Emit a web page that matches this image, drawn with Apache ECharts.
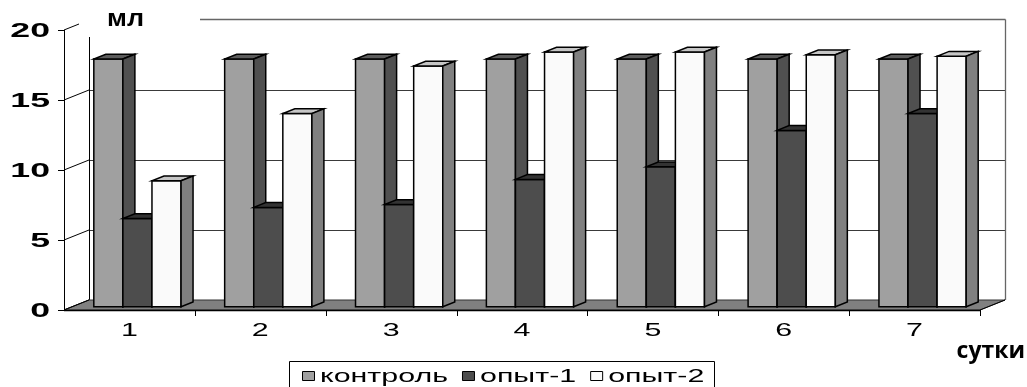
<!DOCTYPE html>
<html>
<head>
<meta charset="utf-8">
<script src="https://cdn.jsdelivr.net/npm/echarts@6/dist/echarts.min.js"></script>
<style>
  html, body { margin: 0; padding: 0; background: #ffffff; }
  #chart { width: 1027px; height: 387px; }
</style>
</head>
<body>
<div id="chart"></div>
<script>
// Days of observation and the measured volumes (ml)
const categories = ['1', '2', '3', '4', '5', '6', '7'];
const seriesNames = ['контроль', 'опыт-1', 'опыт-2'];
const control = [17.7, 17.7, 17.7, 17.7, 17.7, 17.7, 17.7];
const opyt1 = [6.3, 7.1, 7.3, 9.1, 10.0, 12.6, 13.8];
const opyt2 = [9.0, 13.8, 17.2, 18.2, 18.2, 18.0, 17.9];
const yTicks = [0, 5, 10, 15, 20];
const yAxisTitle = 'мл';
const xAxisTitle = 'сутки';

// Oblique projection: offset of the back wall relative to the front plane
const DX = 25, DY = -10;
// Bars occupy this slice of the depth
const BAR_FRONT = 0.32, BAR_BACK = 0.8;

const faces = [
  { front: '#a0a0a0', top: '#5c5c5c', side: '#505050' },
  { front: '#4d4d4d', top: '#333333', side: '#2e2e2e' },
  { front: '#fafafa', top: '#c6c6c6', side: '#808080' }
];
const values = [control, opyt1, opyt2];

const crisp = v => Math.round(v) + 0.5;

// text width helper for laying out the legend row
const measureCtx = document.createElement('canvas').getContext('2d');
function textWidth(text, font) {
  measureCtx.font = font;
  return measureCtx.measureText(text).width;
}

function barRenderer(s) {
  return function (params, api) {
    const ci = api.value(0), v = api.value(1);
    const base = api.coord([ci, 0]);
    const top = api.coord([ci, v]);
    const band = api.size([1, 0])[0];
    const w = band / 4.5;
    const x0 = base[0] - 1.5 * w + s * w;
    const fx = DX * BAR_FRONT, fy = DY * BAR_FRONT;
    const dx = DX * (BAR_BACK - BAR_FRONT), dy = DY * (BAR_BACK - BAR_FRONT);
    const xl = x0 + fx, xr = x0 + w + fx;
    const yb = base[1] + fy, yt = top[1] + fy;
    const st = fill => ({ fill: fill, stroke: '#000', lineWidth: 1.5, lineJoin: 'miter' });
    return {
      type: 'group',
      children: [
        { type: 'polygon', shape: { points: [[xl, yb], [xr, yb], [xr, yt], [xl, yt]] }, style: st(faces[s].front) },
        { type: 'polygon', shape: { points: [[xl, yt], [xr, yt], [xr + dx, yt + dy], [xl + dx, yt + dy]] }, style: st(faces[s].top) },
        { type: 'polygon', shape: { points: [[xr, yb], [xr + dx, yb + dy], [xr + dx, yt + dy], [xr, yt]] }, style: st(faces[s].side) }
      ]
    };
  };
}

function renderFrame(params, api) {
  if (params.dataIndex !== 0) return;
  const cs = params.coordSys;
  const L = cs.x, R = cs.x + cs.width;
  const yMax = yTicks[yTicks.length - 1];
  const yv = v => api.coord([0, v])[1];
  const y0 = yv(0), yTop = yv(yMax);
  const band = cs.width / categories.length;
  const ch = [];
  const line = (x1, y1, x2, y2, color, lw) => ch.push({
    type: 'line', shape: { x1: x1, y1: y1, x2: x2, y2: y2 },
    style: { stroke: color, lineWidth: lw || 1 }
  });

  // back wall
  ch.push({ type: 'polygon', shape: { points: [[L + DX, y0 + DY], [R + DX, y0 + DY], [R + DX, yTop + DY], [L + DX, yTop + DY]] }, style: { fill: '#ffffff' } });
  // grid lines on the back wall and on the left side wall
  yTicks.forEach(t => {
    const y = yv(t);
    if (t > 0 && t < yMax) line(crisp(L + DX), crisp(y + DY), crisp(R + DX), crisp(y + DY), '#3a3a3a', 1);
    line(L, y, L + DX, y + DY, '#000', 1);
  });
  // wall edges
  line(crisp(L + DX), y0 + DY, crisp(L + DX), yTop + DY, '#000', 1);
  line(crisp(L + DX), crisp(yTop + DY - 1), crisp(R + DX), crisp(yTop + DY - 1), '#666', 1.3);
  line(crisp(R + DX), crisp(yTop + DY - 1), crisp(R + DX), y0 + DY, '#666', 1.3);
  // floor
  ch.push({ type: 'polygon', shape: { points: [[L, y0], [R, y0], [R + DX, y0 + DY], [L + DX, y0 + DY]] }, style: { fill: '#808080', stroke: '#333', lineWidth: 1 } });
  line(R, y0, R + DX, y0 + DY, '#000', 1);
  line(L, y0, L + DX, y0 + DY, '#000', 1);
  // axes
  line(crisp(L), yTop, crisp(L), y0, '#000', 1);
  line(L, crisp(y0), R, crisp(y0), '#000', 1.3);
  yTicks.forEach(t => line(L - 6, crisp(yv(t)), L, crisp(yv(t)), '#000', 1));
  for (let k = 1; k <= categories.length; k++) {
    line(crisp(L + band * k), y0, crisp(L + band * k), y0 + 6, '#000', 1);
  }
  // panel behind the axis title
  ch.push({ type: 'rect', shape: { x: 79, y: 0, width: 121, height: 37 }, style: { fill: '#ffffff' } });

  // value labels
  yTicks.forEach(t => ch.push({
    type: 'text', x: L - 14, y: yv(t) + 1, scaleX: 1.7,
    style: { text: String(t), x: 0, y: 0, align: 'right', verticalAlign: 'middle',
      fontFamily: 'Liberation Sans', fontWeight: 'bold', fontSize: 21, fill: '#000' }
  }));
  // category labels
  categories.forEach((c, i) => ch.push({
    type: 'text', x: L + band * (i + 0.5), y: y0 + 21, scaleX: 1.6,
    style: { text: c, x: 0, y: 0, align: 'center', verticalAlign: 'middle',
      fontFamily: 'Liberation Sans', fontSize: 19, fill: '#000' }
  }));
  // axis titles
  ch.push({
    type: 'text', x: 107, y: 31, scaleX: 1.12,
    style: { text: yAxisTitle, x: 0, y: 0, align: 'left', verticalAlign: 'bottom',
      fontFamily: 'Liberation Sans', fontWeight: 'bold', fontSize: 24, fill: '#000' }
  });
  ch.push({
    type: 'text', x: 1025, y: 351,
    style: { text: xAxisTitle, x: 0, y: 0, align: 'right', verticalAlign: 'middle',
      fontFamily: 'Open Sans', fontWeight: 'bold', fontSize: 23, fill: '#000' }
  });

  // legend row
  const lgX = 289, lgY = 361, lgW = 425, lgH = 27;
  const lgFontSize = 19, lgScale = 1.6;
  const lgFont = lgFontSize + 'px "Liberation Sans"';
  ch.push({ type: 'rect', shape: { x: lgX + 0.5, y: lgY + 0.5, width: lgW, height: lgH },
    style: { fill: '#ffffff', stroke: '#000', lineWidth: 1 } });
  let cx = lgX + 13;
  const midY = lgY + 15;
  seriesNames.forEach((name, s) => {
    ch.push({ type: 'rect', shape: { x: cx + 0.5, y: midY - 4.5, width: 12, height: 9 },
      style: { fill: faces[s].front, stroke: '#000', lineWidth: 1 } });
    cx += 18;
    ch.push({
      type: 'text', x: cx, y: midY + 1, scaleX: lgScale,
      style: { text: name, x: 0, y: 0, align: 'left', verticalAlign: 'middle',
        fontFamily: 'Liberation Sans', fontSize: lgFontSize, fill: '#000' }
    });
    cx += textWidth(name, lgFont) * lgScale + 14;
  });
  return { type: 'group', children: ch };
}

const chart = echarts.init(document.getElementById('chart'), null, { renderer: 'canvas' });

const barSeries = seriesNames.map((name, s) => ({
  name: name,
  type: 'custom',
  z: 3,
  renderItem: barRenderer(s),
  itemStyle: { color: faces[s].front, borderColor: '#000', borderWidth: 1 },
  data: values[s].map((v, i) => [i, v]),
  encode: { x: 0, y: 1 }
}));

chart.setOption({
  animation: false,
  backgroundColor: '#ffffff',
  grid: { left: 64, right: 47, top: 30, bottom: 77, containLabel: false },
  xAxis: {
    type: 'category', data: categories,
    axisLine: { show: false }, axisTick: { show: false }, axisLabel: { show: false }, splitLine: { show: false }
  },
  yAxis: {
    type: 'value', min: 0, max: 20, interval: 5,
    axisLine: { show: false }, axisTick: { show: false }, axisLabel: { show: false }, splitLine: { show: false }
  },
  series: [
    {
      name: 'frame', type: 'custom', z: 1, silent: true,
      renderItem: renderFrame,
      data: [[0, 0]],
      encode: { x: 0, y: 1 }
    }
  ].concat(barSeries)
});
</script>
</body>
</html>
